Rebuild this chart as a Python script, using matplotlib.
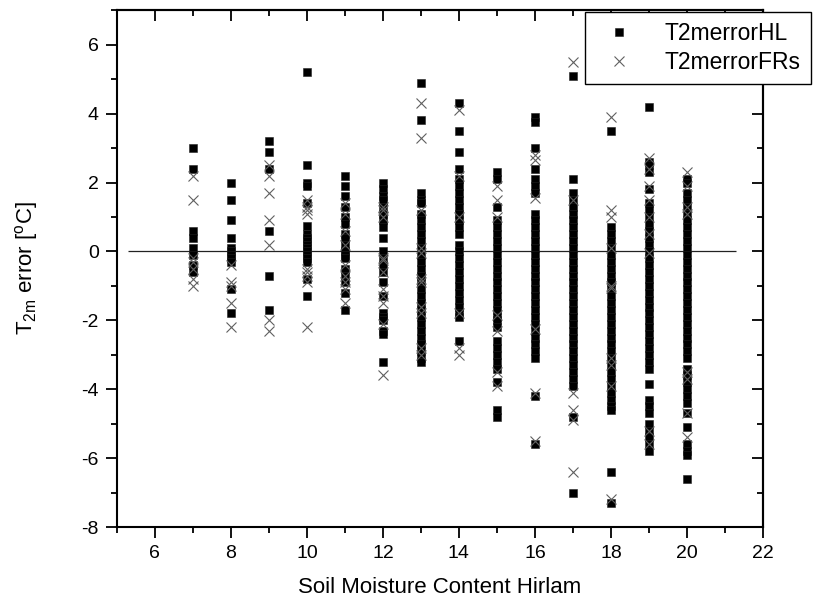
import numpy as np
import matplotlib
matplotlib.use("Agg")
import matplotlib.pyplot as plt
from matplotlib.ticker import MultipleLocator

plt.rcParams["font.family"] = ["Liberation Sans", "DejaVu Sans"]
plt.rcParams["axes.unicode_minus"] = False

# --- Data: one list of errors per soil moisture class ---
soil_x = [7, 8, 9, 10, 11, 12, 13, 14, 15, 16, 17, 18, 19, 20]

hl_err = [
    [3.0, 2.4, 0.6, 0.4, 0.1, -0.1, -0.4, -0.6],
    [2.0, 1.5, 0.9, 0.4, 0.1, 0.0, -0.1, -0.2, -0.3, -1.1, -1.8],
    [3.2, 2.9, 2.4, 0.6, -0.7, -1.7],
    [5.2, 2.5, 2.0, 1.9, 1.4, 0.75, 0.5, 0.4, 0.3, 0.2, 0.1, 0.0, -0.1, -0.2,
     -0.3, -0.8, -1.3],
    [2.2, 1.9, 1.6, 1.3, 1.0, 0.8, 0.5, 0.4, 0.2, 0.0, -0.1, -0.2, -0.5, -0.7,
     -0.9, -1.2, -1.7],
    [2.0, 1.8, 1.6, 1.5, 1.3, 1.1, 0.9, 0.7, 0.4, 0.0, -0.2, -0.4, -0.6, -0.9,
     -1.3, -1.8, -1.9, -2.0, -2.3, -2.4, -3.2],
    [4.9, 3.8, 1.7, 1.5, 1.4, 1.1, 0.9, 0.7, 0.5, 0.3, 0.1, -0.1, -0.3, -0.5,
     -0.7, -0.9, -1.1, -1.3, -1.5, -1.7, -1.9, -2.1, -2.3, -2.5, -2.7, -2.9,
     -3.1, -3.2],
    [4.3, 3.5, 2.9, 2.4, 2.1, 1.9, 1.7, 1.5, 1.3, 1.1, 0.9, 0.7, 0.5, 0.2,
     0.0, -0.2, -0.4, -0.6, -0.8, -1.0, -1.2, -1.4, -1.6, -1.8, -1.9, -2.6],
    [2.3, 2.1, 1.3, 0.9, 0.7, 0.5, 0.3, 0.1, -0.1, -0.3, -0.5, -0.7, -0.9,
     -1.1, -1.3, -1.5, -1.7, -1.9, -2.0, -2.2, -2.6, -2.8, -3.0, -3.2, -3.4,
     -3.8, -4.6, -4.8],
    [3.9, 3.75, 3.0, 2.4, 2.1, 1.9, 1.7, 1.1, 0.9, 0.7, 0.5, 0.3, 0.1, -0.1,
     -0.3, -0.5, -0.7, -0.9, -1.1, -1.3, -1.5, -1.7, -1.9, -2.1, -2.3, -2.5,
     -2.7, -2.9, -3.1, -4.2, -5.6],
    [5.1, 2.1, 1.7, 1.5, 1.3, 1.1, 0.9, 0.7, 0.5, 0.3, 0.1, -0.1, -0.3, -0.5,
     -0.7, -0.9, -1.1, -1.3, -1.5, -1.7, -1.9, -2.1, -2.3, -2.5, -2.7, -2.9,
     -3.1, -3.3, -3.5, -3.7, -3.9, -4.8, -7.0],
    [3.5, 0.7, 0.5, 0.3, 0.1, -0.1, -0.3, -0.5, -0.7, -0.9, -1.1, -1.3, -1.5,
     -1.7, -1.9, -2.1, -2.3, -2.5, -2.7, -2.9, -3.1, -3.3, -3.5, -3.7, -3.9,
     -4.1, -4.3, -4.5, -4.6, -6.4, -7.3],
    [4.2, 2.6, 2.5, 2.3, 1.8, 1.4, 1.2, 1.0, 0.8, 0.6, 0.4, 0.2, 0.0, -0.2,
     -0.4, -0.6, -0.8, -1.0, -1.2, -1.4, -1.6, -1.8, -2.0, -2.2, -2.4, -2.6,
     -2.8, -3.0, -3.2, -3.4, -3.85, -4.3, -4.5, -4.7, -5.0, -5.2, -5.4, -5.6,
     -5.8],
    [2.1, 2.0, 1.7, 1.5, 1.3, 1.1, 0.9, 0.7, 0.5, 0.3, 0.1, -0.1, -0.3, -0.5,
     -0.7, -0.9, -1.1, -1.3, -1.5, -1.7, -1.9, -2.1, -2.3, -2.5, -2.7, -2.9,
     -3.1, -3.4, -3.6, -3.8, -4.0, -4.2, -4.4, -4.7, -5.1, -5.6, -5.8, -5.9,
     -6.6],
]

frs_err = [
    [2.2, 1.5, -0.2, -0.3, -0.5, -0.8, -1.0],
    [-0.4, -0.9, -1.0, -1.5, -2.2],
    [2.5, 2.2, 1.7, 0.9, 0.2, -2.0, -2.3],
    [1.5, 1.3, 1.2, 1.1, -0.5, -0.6, -0.7, -0.9, -2.2],
    [1.4, 1.1, 0.6, 0.2, -0.4, -0.7, -0.9, -1.1, -1.5],
    [1.3, 1.2, 1.0, -0.2, -0.25, -0.6, -1.1, -1.3, -1.5, -2.1, -3.6],
    [4.3, 3.3, 1.2, 0.1, -0.05, -0.8, -0.9, -1.6, -1.8, -2.8, -3.0],
    [4.1, 2.2, 1.0, -1.8, -2.8, -3.0],
    [1.9, 1.5, 1.0, -1.85, -2.3, -3.5, -3.9],
    [2.8, 2.65, 1.55, -2.25, -4.1, -5.5],
    [5.5, 1.5, -4.1, -4.6, -4.9, -6.4],
    [3.9, 1.2, 1.0, 0.1, -1.0, -1.05, -3.1, -3.3, -3.9, -7.2],
    [2.7, 2.4, 1.9, 1.5, 1.0, 0.5, -0.05, -5.2, -5.6],
    [2.3, 1.9, 1.3, 1.1, -3.5, -3.7, -4.7, -5.4],
]

x_hl = np.concatenate([np.full(len(v), x) for x, v in zip(soil_x, hl_err)])
y_hl = np.concatenate(hl_err)
x_frs = np.concatenate([np.full(len(v), x) for x, v in zip(soil_x, frs_err)])
y_frs = np.concatenate(frs_err)

fig = plt.figure(figsize=(8.23, 6.03), dpi=100)
ax = fig.add_axes([0.142, 0.126, 0.785, 0.857])

ax.plot(x_hl, y_hl, linestyle="none", marker="s", markersize=5.4,
        color="black", markeredgecolor="#222222", markeredgewidth=0.4,
        label="T2merrorHL", zorder=3)
ax.plot(x_frs, y_frs, linestyle="none", marker="x", markersize=7.5,
        color="#606060", markeredgewidth=0.8, label="T2merrorFRs", zorder=4)

# zero reference line
ax.hlines(0, 5.3, 21.3, color="#222222", linewidth=0.9, zorder=2)

ax.set_xlim(5, 22)
ax.set_ylim(-8, 7)
ax.set_xticks(np.arange(6, 23, 2))
ax.set_yticks(np.arange(-8, 7, 2))
ax.xaxis.set_minor_locator(MultipleLocator(1))
ax.yaxis.set_minor_locator(MultipleLocator(1))

# bottom / left: outward ticks with labels
ax.tick_params(which="both", direction="out", labelsize=14, width=1.3,
               top=False, right=False, pad=5)
ax.tick_params(which="major", length=8)
ax.tick_params(which="minor", length=4)
for spine in ax.spines.values():
    spine.set_linewidth(1.5)

# top / right: inward ticks, no labels
sec_x = ax.secondary_xaxis("top")
sec_x.set_xticks(np.arange(6, 23, 2))
sec_x.xaxis.set_minor_locator(MultipleLocator(1))
sec_x.tick_params(which="both", direction="in", labeltop=False, width=1.3)
sec_x.tick_params(which="major", length=8)
sec_x.tick_params(which="minor", length=4)
sec_x.spines["top"].set_linewidth(1.5)

sec_y = ax.secondary_yaxis("right")
sec_y.set_yticks(np.arange(-8, 7, 2))
sec_y.yaxis.set_minor_locator(MultipleLocator(1))
sec_y.tick_params(which="both", direction="in", labelright=False, width=1.3)
sec_y.tick_params(which="major", length=8)
sec_y.tick_params(which="minor", length=4)
sec_y.spines["right"].set_linewidth(1.5)

ax.set_xlabel("Soil Moisture Content Hirlam", fontsize=16, labelpad=11)
ax.set_ylabel(r"T$_{\mathregular{2m}}$ error [$^{\mathregular{o}}$C]",
              fontsize=16, labelpad=30)

leg = fig.legend(loc="upper right", bbox_to_anchor=(0.985, 0.98),
                 fontsize=16.5, frameon=True, fancybox=False, edgecolor="black",
                 handletextpad=1.0, borderpad=0.45, labelspacing=0.25,
                 borderaxespad=0.0, handlelength=2.0, framealpha=1.0)
leg.get_frame().set_linewidth(1.0)

fig.savefig("out.png", dpi=100)
